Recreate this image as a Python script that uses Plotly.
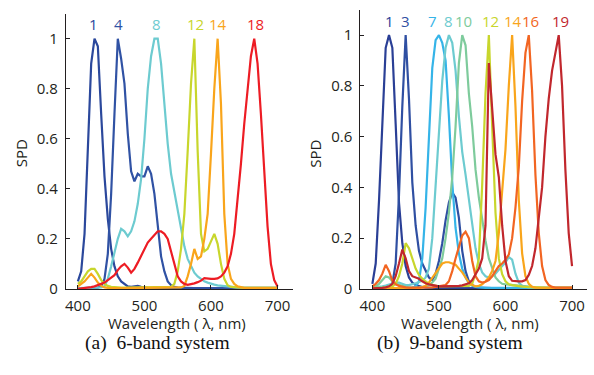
import plotly.graph_objects as go

# ---------------- data ----------------
WAVELENGTH = list(range(400, 705, 5))  # nm, 61 samples

# 6-band system
A_B1 = [0.03, 0.07, 0.22, 0.57, 0.90, 1.00, 0.97, 0.70, 0.45, 0.28,
        0.16, 0.09, 0.05, 0.03, 0.02, 0.01, 0.008, 0.01, 0.012, 0.008,
        0.005, 0.004, 0.003, 0.003, 0.003, 0.003, 0.003, 0.003, 0.003, 0.003,
        0.003, 0.003, 0.003, 0.003, 0.003, 0.003, 0.003, 0.003, 0.003, 0.003,
        0.003, 0.003, 0.003, 0.003, 0.003, 0.003, 0.003, 0.003, 0.003, 0.003,
        0.002, 0.002, 0.002, 0.002, 0.002, 0.002, 0.002, 0.002, 0.002, 0.002,
        0.002]
A_B4 = [0.002, 0.002, 0.002, 0.002, 0.002, 0.003, 0.005, 0.01, 0.04, 0.14,
        0.38, 0.70, 1.00, 0.92, 0.82, 0.62, 0.47, 0.43, 0.46, 0.45,
        0.45, 0.49, 0.46, 0.38, 0.25, 0.13, 0.07, 0.03, 0.015, 0.008,
        0.005, 0.004, 0.003, 0.003, 0.003, 0.003, 0.003, 0.003, 0.003, 0.003,
        0.003, 0.003, 0.003, 0.003, 0.003, 0.003, 0.003, 0.003, 0.003, 0.003,
        0.002, 0.002, 0.002, 0.002, 0.002, 0.002, 0.002, 0.002, 0.002, 0.002,
        0.002]
A_B8 = [0.003, 0.003, 0.003, 0.003, 0.003, 0.003, 0.004, 0.006, 0.01, 0.04,
        0.09, 0.15, 0.20, 0.24, 0.23, 0.21, 0.23, 0.27, 0.34, 0.44,
        0.60, 0.80, 0.93, 1.00, 1.00, 0.90, 0.74, 0.58, 0.46, 0.39,
        0.32, 0.25, 0.17, 0.12, 0.09, 0.065, 0.05, 0.04, 0.03, 0.025,
        0.02, 0.017, 0.014, 0.012, 0.01, 0.009, 0.008, 0.007, 0.006, 0.006,
        0.005, 0.005, 0.005, 0.005, 0.005, 0.005, 0.005, 0.005, 0.005, 0.005,
        0.005]
A_B12 = [0.02, 0.03, 0.05, 0.07, 0.08, 0.08, 0.06, 0.035, 0.02, 0.012,
         0.008, 0.006, 0.005, 0.005, 0.005, 0.005, 0.005, 0.005, 0.005, 0.005,
         0.005, 0.005, 0.005, 0.005, 0.005, 0.005, 0.005, 0.006, 0.008, 0.02,
         0.07, 0.16, 0.30, 0.55, 0.82, 1.00, 0.55, 0.22, 0.15, 0.16,
         0.19, 0.22, 0.18, 0.10, 0.04, 0.015, 0.008, 0.006, 0.005, 0.005,
         0.004, 0.004, 0.004, 0.004, 0.004, 0.004, 0.004, 0.004, 0.004, 0.004,
         0.004]
A_B14 = [0.01, 0.02, 0.03, 0.045, 0.06, 0.045, 0.025, 0.012, 0.006, 0.004,
         0.003, 0.003, 0.003, 0.003, 0.003, 0.003, 0.003, 0.003, 0.003, 0.003,
         0.003, 0.003, 0.003, 0.003, 0.003, 0.003, 0.003, 0.003, 0.003, 0.003,
         0.004, 0.006, 0.012, 0.05, 0.10, 0.16, 0.12, 0.13, 0.20, 0.30,
         0.54, 0.80, 1.00, 0.74, 0.30, 0.10, 0.04, 0.02, 0.01, 0.006,
         0.004, 0.004, 0.004, 0.004, 0.004, 0.004, 0.004, 0.004, 0.004, 0.004,
         0.004]
A_B18 = [0.0, 0.001, 0.002, 0.004, 0.007, 0.01, 0.014, 0.018, 0.025, 0.035,
         0.045, 0.055, 0.075, 0.09, 0.10, 0.085, 0.065, 0.08, 0.105, 0.13,
         0.16, 0.185, 0.20, 0.215, 0.23, 0.23, 0.22, 0.20, 0.15, 0.09,
         0.05, 0.03, 0.02, 0.016, 0.018, 0.022, 0.027, 0.033, 0.043, 0.04,
         0.04, 0.04, 0.042, 0.05, 0.065, 0.09, 0.14, 0.22, 0.35, 0.50,
         0.66, 0.80, 0.93, 1.00, 0.90, 0.70, 0.45, 0.25, 0.10, 0.035,
         0.01]

# 9-band system
B_B1 = [0.02, 0.10, 0.35, 0.68, 0.95, 1.00, 0.95, 0.65, 0.34, 0.18,
        0.09, 0.045, 0.025, 0.015, 0.01, 0.007, 0.005, 0.004, 0.004, 0.004,
        0.003, 0.003, 0.003, 0.003, 0.003, 0.003, 0.003, 0.003, 0.003, 0.003,
        0.003, 0.003, 0.003, 0.003, 0.003, 0.003, 0.003, 0.003, 0.003, 0.003,
        0.003, 0.003, 0.003, 0.003, 0.003, 0.003, 0.003, 0.003, 0.003, 0.003,
        0.002, 0.002, 0.002, 0.002, 0.002, 0.002, 0.002, 0.002, 0.002, 0.002,
        0.002]
B_B3 = [0.002, 0.002, 0.002, 0.002, 0.003, 0.006, 0.02, 0.10, 0.37, 0.72,
        1.00, 0.75, 0.42, 0.25, 0.15, 0.10, 0.07, 0.045, 0.035, 0.06,
        0.11, 0.18, 0.27, 0.34, 0.38, 0.36, 0.28, 0.15, 0.07, 0.03,
        0.015, 0.008, 0.005, 0.004, 0.003, 0.003, 0.003, 0.003, 0.003, 0.003,
        0.003, 0.003, 0.003, 0.003, 0.003, 0.003, 0.003, 0.003, 0.003, 0.003,
        0.002, 0.002, 0.002, 0.002, 0.002, 0.002, 0.002, 0.002, 0.002, 0.002,
        0.002]
B_B7 = [0.002, 0.002, 0.002, 0.002, 0.002, 0.002, 0.002, 0.002, 0.003, 0.003,
        0.003, 0.004, 0.005, 0.01, 0.03, 0.12, 0.32, 0.60, 0.87, 0.98,
        1.00, 0.97, 0.90, 0.68, 0.42, 0.24, 0.14, 0.08, 0.045, 0.022,
        0.012, 0.008, 0.006, 0.005, 0.004, 0.004, 0.004, 0.004, 0.004, 0.004,
        0.004, 0.004, 0.004, 0.004, 0.004, 0.004, 0.004, 0.004, 0.004, 0.004,
        0.003, 0.003, 0.003, 0.003, 0.003, 0.003, 0.003, 0.003, 0.003, 0.003,
        0.003]
B_B8 = [0.005, 0.006, 0.008, 0.01, 0.013, 0.017, 0.02, 0.025, 0.025, 0.02,
        0.015, 0.015, 0.018, 0.022, 0.027, 0.033, 0.045, 0.08, 0.20, 0.40,
        0.62, 0.82, 0.95, 1.00, 0.97, 0.86, 0.68, 0.54, 0.45, 0.36,
        0.25, 0.16, 0.10, 0.065, 0.05, 0.045, 0.05, 0.06, 0.075, 0.09,
        0.105, 0.125, 0.115, 0.06, 0.025, 0.012, 0.008, 0.006, 0.005, 0.005,
        0.004, 0.004, 0.004, 0.004, 0.004, 0.004, 0.004, 0.004, 0.004, 0.004,
        0.004]
B_B10 = [0.005, 0.01, 0.02, 0.035, 0.05, 0.045, 0.03, 0.02, 0.015, 0.01,
         0.008, 0.006, 0.005, 0.005, 0.006, 0.008, 0.01, 0.015, 0.025, 0.04,
         0.08, 0.12, 0.20, 0.30, 0.44, 0.64, 0.89, 1.00, 0.96, 0.77,
         0.64, 0.47, 0.36, 0.27, 0.19, 0.12, 0.08, 0.045, 0.03, 0.02,
         0.018, 0.017, 0.016, 0.015, 0.014, 0.013, 0.012, 0.01, 0.008, 0.006,
         0.005, 0.005, 0.005, 0.005, 0.005, 0.005, 0.005, 0.005, 0.005, 0.005,
         0.005]
B_B12 = [0.003, 0.003, 0.004, 0.005, 0.006, 0.008, 0.01, 0.02, 0.05, 0.10,
         0.18, 0.16, 0.12, 0.08, 0.055, 0.04, 0.03, 0.02, 0.015, 0.012,
         0.01, 0.01, 0.01, 0.01, 0.01, 0.01, 0.01, 0.01, 0.01, 0.012,
         0.02, 0.06, 0.12, 0.41, 0.77, 1.00, 0.64, 0.30, 0.12, 0.058,
         0.03, 0.018, 0.015, 0.012, 0.01, 0.009, 0.008, 0.007, 0.006, 0.005,
         0.004, 0.004, 0.004, 0.004, 0.004, 0.004, 0.004, 0.004, 0.004, 0.004,
         0.004]
B_B14 = [0.003, 0.003, 0.003, 0.003, 0.003, 0.003, 0.003, 0.003, 0.003, 0.003,
         0.003, 0.003, 0.003, 0.003, 0.003, 0.006, 0.012, 0.025, 0.045, 0.065,
         0.085, 0.10, 0.105, 0.105, 0.10, 0.095, 0.08, 0.065, 0.045, 0.025,
         0.015, 0.01, 0.012, 0.018, 0.03, 0.045, 0.07, 0.11, 0.22, 0.40,
         0.55, 0.80, 1.00, 0.72, 0.35, 0.14, 0.05, 0.02, 0.008, 0.005,
         0.004, 0.004, 0.004, 0.004, 0.004, 0.004, 0.004, 0.004, 0.004, 0.004,
         0.004]
B_B16 = [0.01, 0.02, 0.035, 0.06, 0.095, 0.07, 0.032, 0.018, 0.012, 0.008,
         0.006, 0.005, 0.005, 0.005, 0.005, 0.005, 0.005, 0.005, 0.006, 0.008,
         0.01, 0.012, 0.015, 0.03, 0.07, 0.12, 0.17, 0.21, 0.225, 0.20,
         0.11, 0.05, 0.03, 0.025, 0.028, 0.035, 0.05, 0.07, 0.09, 0.10,
         0.115, 0.135, 0.20, 0.32, 0.48, 0.74, 0.93, 1.00, 0.78, 0.45,
         0.22, 0.09, 0.035, 0.015, 0.008, 0.005, 0.005, 0.005, 0.005, 0.005,
         0.005]
B_B19 = [0.002, 0.002, 0.003, 0.004, 0.006, 0.01, 0.02, 0.05, 0.10, 0.155,
         0.12, 0.07, 0.05, 0.045, 0.04, 0.03, 0.022, 0.018, 0.015, 0.012,
         0.01, 0.01, 0.01, 0.01, 0.01, 0.01, 0.012, 0.014, 0.017, 0.022,
         0.035, 0.055, 0.08, 0.12, 0.25, 0.89, 0.70, 0.53, 0.44, 0.25,
         0.11, 0.05, 0.032, 0.03, 0.03, 0.03, 0.035, 0.055, 0.09, 0.16,
         0.27, 0.40, 0.60, 0.75, 0.86, 0.93, 1.00, 0.80, 0.47, 0.22,
         0.09]

A_NAMES = ["1", "4", "8", "12", "14", "18"]
A_SERIES = [A_B1, A_B4, A_B8, A_B12, A_B14, A_B18]
A_COLORS = ["#2b489c", "#3052a4", "#6dcbd0", "#c8d62c", "#f9a51b", "#ed1c24"]
A_LABEL_X = [424, 461, 518, 577, 611, 667]

B_NAMES = ["1", "3", "7", "8", "10", "12", "14", "16", "19"]
B_SERIES = [B_B1, B_B3, B_B7, B_B8, B_B10, B_B12, B_B14, B_B16, B_B19]
B_COLORS = ["#2a3f96", "#2f4fa2", "#35b4e8", "#6dcbd0", "#7ecb9c",
            "#c8d62c", "#f9a51b", "#f26522", "#c1272d"]
B_LABEL_X = [425, 450, 491, 515, 537, 577, 611, 638, 682]

Y_TICKS = [0, 0.2, 0.4, 0.6, 0.8, 1]
X_TICKS = [400, 500, 600, 700]

# ---------------- figure ----------------
W, H = 594, 375


def px(x):
    return x / W


def py(y):
    return 1 - y / H


fig = go.Figure()

for name, ys, col in zip(A_NAMES, A_SERIES, A_COLORS):
    fig.add_trace(go.Scatter(x=WAVELENGTH, y=ys, mode="lines", name=name,
                             line=dict(color=col, width=2.2),
                             xaxis="x", yaxis="y", hoverinfo="skip"))
for name, ys, col in zip(B_NAMES, B_SERIES, B_COLORS):
    fig.add_trace(go.Scatter(x=WAVELENGTH, y=ys, mode="lines", name=name,
                             line=dict(color=col, width=2.2),
                             xaxis="x2", yaxis="y2", hoverinfo="skip"))

AX = "#231f20"
TICKFONT = dict(family="Open Sans", size=15, color=AX)


def xax(domain):
    return dict(domain=domain, range=[382, 722.5], showline=True, linecolor=AX,
                linewidth=1, ticks="inside", ticklen=4, tickcolor=AX,
                tickvals=X_TICKS, tickfont=TICKFONT, showgrid=False,
                zeroline=False, ticklabelstandoff=3, fixedrange=True)


def yax(domain, anchor):
    return dict(domain=domain, range=[0, 1.1], showline=True, linecolor=AX,
                linewidth=1, ticks="inside", ticklen=4, tickcolor=AX,
                tickvals=Y_TICKS, tickfont=TICKFONT, showgrid=False,
                zeroline=False, anchor=anchor, ticklabelstandoff=4,
                fixedrange=True)


fig.update_layout(
    width=W, height=H, margin=dict(l=0, r=0, t=0, b=0),
    paper_bgcolor="white", plot_bgcolor="white", showlegend=False,
    xaxis=xax([px(65), px(292)]) | dict(anchor="y"),
    yaxis=yax([py(296), py(14)], "x"),
    xaxis2=xax([px(360), px(587)]) | dict(anchor="y2"),
    yaxis2=yax([py(296), py(10)], "x2"),
)

ann = []
for name, xv, col in zip(A_NAMES, A_LABEL_X, A_COLORS):
    ann.append(dict(x=xv, y=1.06, xref="x", yref="y", text=name, showarrow=False,
                    font=dict(family="Open Sans", size=15, color=col),
                    xanchor="center", yanchor="middle"))
for name, xv, col in zip(B_NAMES, B_LABEL_X, B_COLORS):
    ann.append(dict(x=xv, y=1.055, xref="x2", yref="y2", text=name, showarrow=False,
                    font=dict(family="Open Sans", size=15, color=col),
                    xanchor="center", yanchor="middle"))

LABFONT = dict(family="Open Sans", size=15, color=AX)
for cx in (176, 470):
    ann.append(dict(x=px(cx), y=py(331), xref="paper", yref="paper",
                    text="Wavelength ( λ, nm)", showarrow=False, font=LABFONT,
                    xanchor="center", yanchor="middle"))
for cx in (20, 315):
    ann.append(dict(x=px(cx), y=py(157), xref="paper", yref="paper",
                    text="SPD", showarrow=False, font=LABFONT, textangle=-90,
                    xanchor="center", yanchor="middle"))

CAPFONT = dict(family="Liberation Serif", size=19.5, color="#111111")
ann.append(dict(x=px(157), y=py(351), xref="paper", yref="paper",
                text="(a)\u00a0\u00a06-band system", showarrow=False, font=CAPFONT,
                xanchor="center", yanchor="middle"))
ann.append(dict(x=px(450), y=py(351), xref="paper", yref="paper",
                text="(b)\u00a0\u00a09-band system", showarrow=False, font=CAPFONT,
                xanchor="center", yanchor="middle"))

fig.update_layout(annotations=ann)
fig.write_html(
    "out.html",
    config={"displayModeBar": False},
    post_script="document.body.style.margin='0px';document.body.style.overflow='hidden';",
)
